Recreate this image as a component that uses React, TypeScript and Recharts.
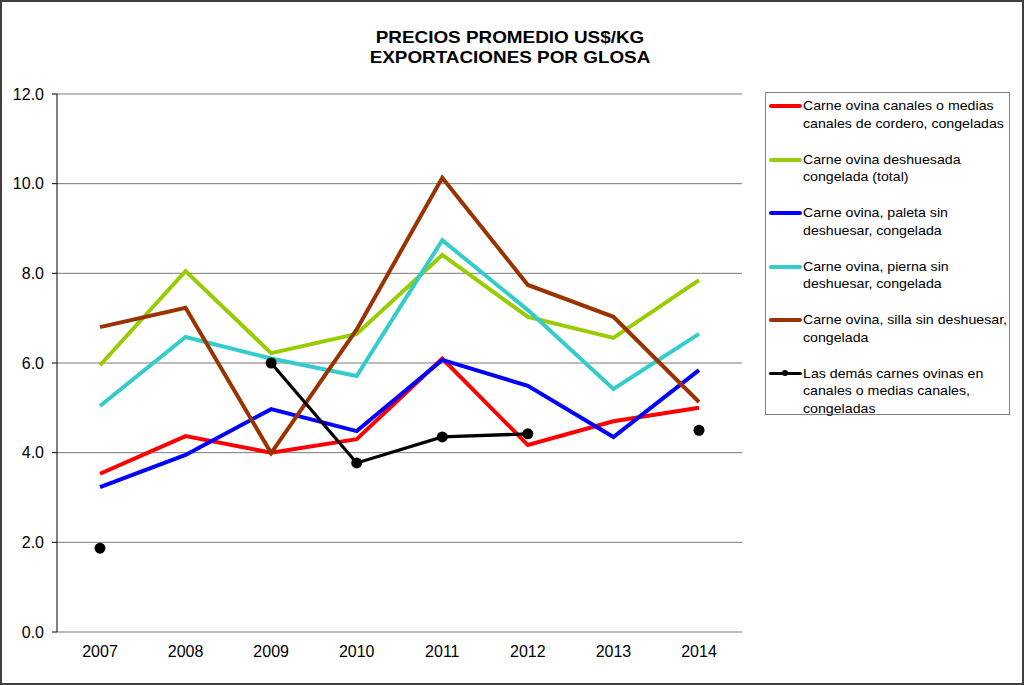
import { LineChart, Line, XAxis, YAxis, CartesianGrid } from 'recharts'

const years = ['2007', '2008', '2009', '2010', '2011', '2012', '2013', '2014']
const canalesCordero = [3.53, 4.37, 4.0, 4.3, 6.1, 4.17, 4.7, 5.0]
const deshuesadaTotal = [5.95, 8.05, 6.22, 6.65, 8.41, 7.03, 6.56, 7.85]
const paletaSinDeshuesar = [3.23, 3.95, 4.97, 4.48, 6.07, 5.49, 4.35, 5.84]
const piernaSinDeshuesar = [5.04, 6.58, 6.1, 5.71, 8.74, 7.18, 5.42, 6.65]
const sillaSinDeshuesar = [6.8, 7.23, 3.99, 6.75, 10.13, 7.74, 7.03, 5.13]
const demasCarnes = [1.87, null, 6.0, 3.77, 4.35, 4.42, null, 4.5]
const yTicks = [0, 2, 4, 6, 8, 10, 12]
const frameTicks = [0, 1, 2, 3, 4, 5, 6, 7, 8]

const series = [
  { key: 'canales', values: canalesCordero, color: '#FF0000', lines: ['Carne ovina canales o medias', 'canales de cordero, congeladas'] },
  { key: 'deshuesada', values: deshuesadaTotal, color: '#99CC00', lines: ['Carne ovina deshuesada', 'congelada (total)'] },
  { key: 'paleta', values: paletaSinDeshuesar, color: '#0000FF', lines: ['Carne ovina, paleta sin', 'deshuesar, congelada'] },
  { key: 'pierna', values: piernaSinDeshuesar, color: '#33CCCC', lines: ['Carne ovina, pierna sin', 'deshuesar, congelada'] },
  { key: 'silla', values: sillaSinDeshuesar, color: '#993300', lines: ['Carne ovina, silla sin deshuesar,', 'congelada'] },
  { key: 'demas', values: demasCarnes, color: '#000000', lines: ['Las demás carnes ovinas en', 'canales o medias canales,', 'congeladas'], dots: true },
]

const data = years.map((year, i) => {
  const row: Record<string, string | number | null> = { year }
  series.forEach((s) => { row[s.key] = s.values[i] })
  return row
})

const FONT = '"Liberation Sans", Arial, sans-serif'

function LegendBox() {
  return (
    <div style={{
      position: 'absolute', left: 765, top: 92, width: 245, height: 323,
      border: '1px solid #808080', boxSizing: 'border-box', paddingTop: 4,
      fontFamily: FONT, fontSize: 13, color: '#000',
    }}>
      {series.map((s) => (
        <div key={s.key} style={{ display: 'flex', marginBottom: 18.4, lineHeight: '17.6px' }}>
          <div style={{ position: 'relative', width: 37, flex: 'none' }}>
            <div style={{ position: 'absolute', left: 3, top: 7, width: 33, height: s.dots ? 3 : 4, background: s.color, borderRadius: 2 }} />
            {s.dots && <div style={{ position: 'absolute', left: 16, top: 5.5, width: 6, height: 6, borderRadius: 3, background: s.color }} />}
          </div>
          <div style={{ transform: 'scaleX(1.09)', transformOrigin: 'left center', whiteSpace: 'nowrap' }}>
            {s.lines.map((l) => <div key={l}>{l}</div>)}
          </div>
        </div>
      ))}
    </div>
  )
}

export default function App() {
  return (
    <div style={{ position: 'absolute', left: 0, top: 0, width: 1024, height: 685, background: '#fff' }}>
      <LineChart width={1024} height={685} data={data} margin={{ top: 94, right: 282, bottom: 0, left: 7 }} style={{ position: 'absolute', left: 0, top: 0 }}>
        <CartesianGrid vertical={false} stroke="#7a7a7a" />
        <XAxis xAxisId="frame" type="number" domain={[0, 8]} ticks={frameTicks} interval={0} tick={false}
          height={0} tickSize={6} tickLine={{ stroke: '#000' }} axisLine={{ stroke: '#000' }} allowDataOverflow />
        <XAxis dataKey="year" height={53} padding={{ left: 43, right: 43 }} tickLine={false} axisLine={false}
          tickSize={0} tickMargin={14} interval={0}
          tick={{ fontSize: 16, fill: '#000', fontFamily: FONT }} />
        <YAxis domain={[0, 12]} ticks={yTicks} width={50} tickSize={5} tickMargin={8}
          tickFormatter={(v: number) => v.toFixed(1)}
          tick={{ fontSize: 16, fill: '#000', fontFamily: FONT }}
          tickLine={{ stroke: '#000' }} axisLine={{ stroke: '#000' }} />
        <YAxis yAxisId="r" orientation="right" domain={[0, 12]} width={0} tick={false} tickLine={false} axisLine={{ stroke: '#808080' }} />
        {series.map((s) => (
          <Line key={s.key} type="linear" dataKey={s.key} stroke={s.color}
            strokeWidth={s.dots ? 3.3 : 4}
            dot={s.dots ? { r: 5.5, fill: s.color, stroke: s.color, strokeWidth: 0 } : false}
            activeDot={false} connectNulls={false} isAnimationActive={false} />
        ))}
      </LineChart>
      <div style={{
        position: 'absolute', left: 0, top: 28, width: 1020, textAlign: 'center',
        fontFamily: FONT, fontWeight: 'bold', fontSize: 17, lineHeight: '19.5px', color: '#000',
        transform: 'scaleX(1.11)', transformOrigin: '510px center',
      }}>
        <div>PRECIOS PROMEDIO US$/KG</div>
        <div>EXPORTACIONES POR GLOSA</div>
      </div>
      <LegendBox />
      <div style={{ position: 'absolute', left: 0, top: 0, width: 1024, height: 685, border: '2px solid #404040', boxSizing: 'border-box', pointerEvents: 'none' }} />
    </div>
  )
}
